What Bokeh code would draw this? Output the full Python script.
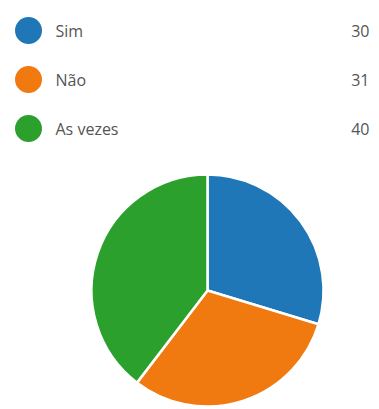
import math
from bokeh.plotting import figure
from bokeh.models import Range1d, ColumnDataSource
from bokeh.core.properties import value
from bokeh.embed import file_html
from bokeh.resources import INLINE

categories = ["Sim", "Não", "As vezes"]
counts = [30, 31, 40]
colors = ["#1f77b8", "#f07a10", "#2ca02c"]

W, H = 379, 409
p = figure(width=W, height=H, output_backend="svg", toolbar_location=None,
           x_range=Range1d(0, W), y_range=Range1d(0, H), min_border=0)
p.axis.visible = False
p.grid.visible = False
p.outline_line_color = None
p.background_fill_color = "white"

# pie
total = sum(counts)
starts, ends = [], []
a = math.pi / 2
for c in counts:
    starts.append(a)
    a -= c / total * 2 * math.pi
    ends.append(a)
cx, cy, r = 207, H - 290, 116
src = ColumnDataSource(dict(start=starts, end=ends, color=colors))
p.wedge(x=cx, y=cy, radius=r, start_angle="start", end_angle="end",
        direction="clock", fill_color="color", line_color="white",
        line_width=2.5, source=src)

# legend
ly = [H - 30, H - 79, H - 128]
lsrc = ColumnDataSource(dict(y=ly, cat=categories, val=[str(v) for v in counts], color=colors))
p.scatter(x=28, y="y", size=27, fill_color="color", line_color=None, source=lsrc)
p.text(x=55, y="y", text="cat", text_font=value("Open Sans"), text_font_size="16px",
       text_color="#555555", text_baseline="middle", source=lsrc)
p.text(x=369, y="y", text="val", text_font=value("Open Sans"), text_font_size="16px",
       text_color="#555555", text_baseline="middle", text_align="right", source=lsrc)

open("out.html", "w").write(file_html(p, INLINE))
